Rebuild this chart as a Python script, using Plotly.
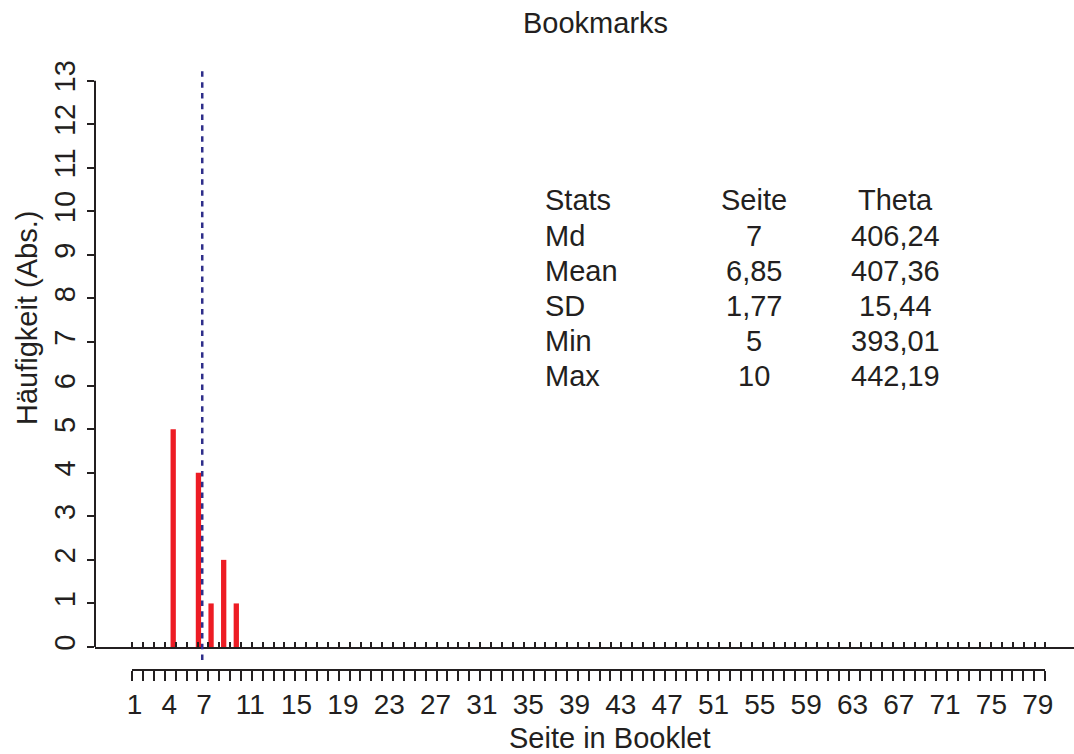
import plotly.graph_objects as go

# Page frequencies of bookmarks
pages = [5, 7, 8, 9, 10]
counts = [5, 4, 1, 2, 1]
mean_page = 6.85

# Axis tick content
page_labels = [1, 4, 7, 11, 15, 19, 23, 27, 31, 35, 39, 43, 47, 51, 55, 59, 63, 67, 71, 75, 79]
count_ticks = list(range(0, 14))
rug_ticks = list(range(0, 85))

# Summary table
stat_names = ["Stats", "Md", "Mean", "SD", "Min", "Max"]
seite_col = ["Seite", "7", "6,85", "1,77", "5", "10"]
theta_col = ["Theta", "406,24", "407,36", "15,44", "393,01", "442,19"]

W, H = 1074, 754
L, R, T, B = 95, 1074, 58, 670
INK = "#231f20"
FONT = "Liberation Sans, Arial, Helvetica, sans-serif"


def px_x(p):
    return (p - L) / (R - L)


def px_y(p):
    return (B - p) / (B - T)


fig = go.Figure()

fig.add_trace(go.Bar(
    x=pages, y=counts, width=0.42,
    marker=dict(color="#ed1c24", line=dict(width=0)),
    xaxis="x", yaxis="y", showlegend=False,
))
# empty traces so the helper axes get drawn
for ax in ["x2", "x3", "x4"]:
    fig.add_trace(go.Scatter(x=[], y=[], xaxis=ax, yaxis="y", showlegend=False))

fig.update_layout(
    width=W, height=H,
    margin=dict(l=L, r=W - R, t=T, b=H - B),
    paper_bgcolor="white", plot_bgcolor="rgba(0,0,0,0)",
    font=dict(family=FONT, color=INK, size=28),
    xaxis=dict(range=[-1.197, 76.38], visible=False, domain=[0, 1]),
    xaxis2=dict(
        overlaying="x", anchor="free", position=0,
        range=[-2.411, 82.13],
        tickmode="array", tickvals=page_labels, ticktext=[str(v) for v in page_labels],
        ticks="", showline=False, showgrid=False, zeroline=False,
        tickfont=dict(size=28, family=FONT, color=INK),
        ticklabelstandoff=15,
    ),
    xaxis3=dict(
        overlaying="x", anchor="free", position=px_y(647.5),
        range=[-3.431, 86.63],
        tickmode="array", tickvals=rug_ticks, showticklabels=False,
        ticks="inside", ticklen=5, tickwidth=2, tickcolor=INK,
        showline=True, linewidth=2, linecolor=INK,
        showgrid=False, zeroline=False,
    ),
    xaxis4=dict(
        anchor="free", position=0,
        domain=[px_x(132.3), px_x(1045)],
        range=[0, 84],
        tickmode="array", tickvals=rug_ticks, showticklabels=False,
        ticks="outside", ticklen=10, tickwidth=2, tickcolor=INK,
        showline=True, linewidth=2, linecolor=INK,
        showgrid=False, zeroline=False,
    ),
    yaxis=dict(
        range=[-0.528, 13.52], domain=[0, 1], anchor="x",
        tickmode="array", tickvals=count_ticks,
        ticks="outside", ticklen=7, tickwidth=2, tickcolor=INK,
        tickangle=-90, tickfont=dict(size=29, family=FONT, color=INK),
        showline=False, showgrid=False, zeroline=False,
    ),
)

# y axis line spanning only the tick range
fig.add_shape(type="line", xref="paper", yref="y", x0=0, x1=0,
              y0=count_ticks[0], y1=count_ticks[-1],
              line=dict(color=INK, width=2))

# mean page marker
fig.add_shape(type="line", xref="x2", yref="y", x0=mean_page, x1=mean_page,
              y0=-0.3, y1=13.31,
              line=dict(color="#2e2e8a", width=2.5, dash="5.5px,5.3px"))

# titles
fig.add_annotation(text="Bookmarks", xref="paper", yref="paper",
                   x=px_x(595), y=px_y(23), xanchor="center", yanchor="middle",
                   showarrow=False, font=dict(size=29))
fig.add_annotation(text="Seite in Booklet", xref="paper", yref="paper",
                   x=px_x(610), y=px_y(738), xanchor="center", yanchor="middle",
                   showarrow=False, font=dict(size=29))
fig.add_annotation(text="Häufigkeit (Abs.)", xref="paper", yref="paper",
                   x=px_x(27), y=px_y(318), xanchor="center", yanchor="middle",
                   textangle=-90, showarrow=False, font=dict(size=29))

# summary table
row_y = [200, 236, 271, 306, 341, 376]
for name, seite, theta, yy in zip(stat_names, seite_col, theta_col, row_y):
    fig.add_annotation(text=name, xref="paper", yref="paper", x=px_x(543), y=px_y(yy),
                       xanchor="left", yanchor="middle", showarrow=False, font=dict(size=29))
    fig.add_annotation(text=seite, xref="paper", yref="paper", x=px_x(754), y=px_y(yy),
                       xanchor="center", yanchor="middle", showarrow=False, font=dict(size=29))
    fig.add_annotation(text=theta, xref="paper", yref="paper", x=px_x(895), y=px_y(yy),
                       xanchor="center", yanchor="middle", showarrow=False, font=dict(size=29))

fig.write_html("out.html")
